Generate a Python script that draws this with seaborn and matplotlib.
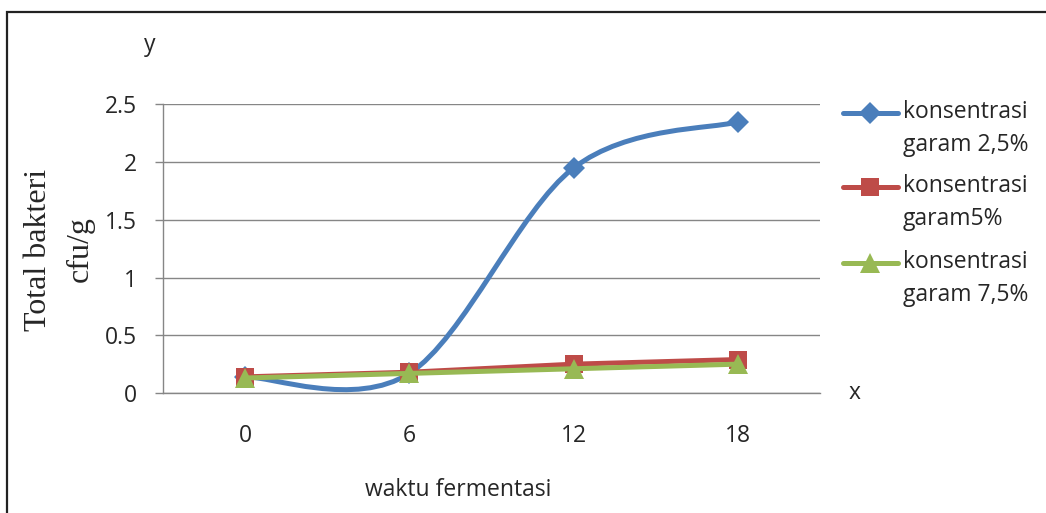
import numpy as np
import pandas as pd
import matplotlib.pyplot as plt
import seaborn as sns
from matplotlib.path import Path
from matplotlib.patches import PathPatch, Rectangle
from matplotlib.lines import Line2D

# data
waktu = [0, 6, 12, 18]
garam_25 = [0.14, 0.17, 1.95, 2.35]
garam_5 = [0.14, 0.18, 0.25, 0.29]
garam_75 = [0.13, 0.17, 0.21, 0.25]
series_labels = ["konsentrasi\ngaram 2,5%", "konsentrasi\ngaram5%", "konsentrasi\ngaram 7,5%"]
yticks = [0, 0.5, 1, 1.5, 2, 2.5]
ytick_labels = ["0", "0.5", "1", "1.5", "2", "2.5"]

colors = ["#4A7EBB", "#BE4B48", "#98B954"]
markers = ["D", "s", "^"]
msizes = [11, 13, 14]
FS = 16.5

sns.set_style("white")
plt.rcParams["font.family"] = ["Open Sans", "DejaVu Sans"]


def smooth_path(xs, ys):
    # Excel-style smoothed line (Catmull-Rom bezier)
    pts = np.column_stack([xs, ys]).astype(float)
    n = len(pts)
    verts = [pts[0]]
    codes = [Path.MOVETO]
    for i in range(n - 1):
        p0 = pts[max(i - 1, 0)]
        p1 = pts[i]
        p2 = pts[i + 1]
        p3 = pts[min(i + 2, n - 1)]
        verts += [p1 + (p2 - p0) / 6, p2 - (p3 - p1) / 6, p2]
        codes += [Path.CURVE4] * 3
    return Path(verts, codes)


fig = plt.figure(figsize=(10.46, 5.13), dpi=100)
ax = fig.add_axes([0.1558, 0.2339, 0.6281, 0.5624])

# border around the chart (cropped on right/bottom)
fig.add_artist(Rectangle((7 / 1046, -0.1), 1.2, 1 - 12 / 513 + 0.1, transform=fig.transFigure,
                         fill=False, edgecolor="#222222", linewidth=1.6))

df = pd.DataFrame({"waktu": waktu, "g25": garam_25, "g5": garam_5, "g75": garam_75})

# blue smoothed line
ax.add_patch(PathPatch(smooth_path(df["waktu"], df["g25"]), facecolor="none",
                       edgecolor=colors[0], linewidth=3.6, capstyle="round", zorder=3))
sns.lineplot(data=df, x="waktu", y="g25", ax=ax, color=colors[0], linestyle="",
             marker=markers[0], markersize=msizes[0], markeredgewidth=0, zorder=4)
sns.lineplot(data=df, x="waktu", y="g5", ax=ax, color=colors[1], linewidth=3.6,
             marker=markers[1], markersize=msizes[1], markeredgewidth=0, zorder=5)
sns.lineplot(data=df, x="waktu", y="g75", ax=ax, color=colors[2], linewidth=3.6,
             marker=markers[2], markersize=msizes[2], markeredgewidth=0, zorder=6)

ax.set_xlim(-3, 21)
ax.set_ylim(0, 2.5)
ax.set_xticks(waktu)
ax.set_xticklabels([str(w) for w in waktu])
ax.set_xticks([-3, 3, 9, 15, 21], minor=True)
ax.set_yticks(yticks)
ax.set_yticklabels(ytick_labels)
ax.tick_params(axis="x", which="major", length=0, pad=22, labelsize=FS)
ax.tick_params(axis="x", which="minor", length=6, width=1, color="#868686", direction="out")
ax.tick_params(axis="y", length=6, width=1, color="#868686", pad=13, labelsize=FS, left=True)
ax.yaxis.grid(True, color="#868686", linewidth=1)
ax.xaxis.grid(False)
for s in ["top", "right"]:
    ax.spines[s].set_visible(False)
for s in ["left", "bottom"]:
    ax.spines[s].set_color("#868686")
    ax.spines[s].set_linewidth(1)
ax.set_xlabel("")
ax.set_ylabel("")

fig.text(38 / 1046, 1 - 250 / 513, "Total bakteri", rotation=90, ha="center", va="center",
         family="Liberation Serif", fontsize=23)
fig.text(80 / 1046, 1 - 249 / 513, "cfu/g", rotation=90, ha="center", va="center",
         family="Liberation Serif", fontsize=23)
fig.text(150 / 1046, 1 - 45 / 513, "y", ha="center", va="center", fontsize=FS)
fig.text(855 / 1046, 1 - 393 / 513, "x", ha="center", va="center", fontsize=FS)
fig.text(458 / 1046, 1 - 490 / 513, "waktu fermentasi", ha="center", va="center", fontsize=FS)

# legend
leg_y = [113, 187, 263]
for i, lab in enumerate(series_labels):
    yy = 1 - leg_y[i] / 513
    fig.add_artist(Line2D([843 / 1046, 898 / 1046], [yy, yy], transform=fig.transFigure,
                          color=colors[i], linewidth=3.6))
    fig.add_artist(Line2D([870 / 1046], [yy], transform=fig.transFigure, color=colors[i],
                          marker=markers[i], markersize=msizes[i], markeredgewidth=0, linestyle=""))
    fig.text(903 / 1046, 1 - (leg_y[i] - 13) / 513, lab, ha="left", va="top",
             fontsize=FS, linespacing=1.5)

fig.savefig("out.png", dpi=100)
